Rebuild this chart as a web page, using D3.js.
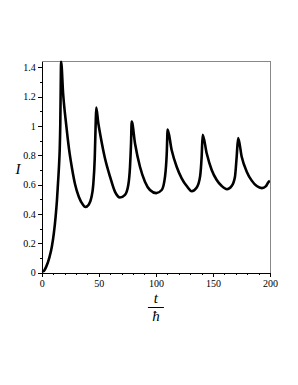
<!DOCTYPE html>
<head>
<meta charset="utf-8">
<script src="https://cdn.jsdelivr.net/npm/d3@7"></script>
<style>
body { margin: 0; background: #fff; }
.axis path, .axis line { stroke: #000; stroke-width: 1; shape-rendering: crispEdges; }
.axis text { font-family: "Liberation Serif", serif; font-size: 10px; fill: #000; }
.frame { fill: none; stroke: #888; stroke-width: 1; shape-rendering: crispEdges; }
.curve { fill: none; stroke: #000; stroke-width: 2.6px; stroke-linejoin: round; }
</style>
</head>
<body>
<script>
// values
var tValues = [0, 2, 3.9, 6.8, 8.8, 10.6, 12.1, 13.3, 14.2, 15.1, 15.7, 16.2, 16.6, 16.9,
  18.7, 21.5, 23.9, 26.5, 29.2, 32.5, 36.1, 38.1, 41.1, 43.4, 45.1, 46.4, 47.2, 47.7,
  49.5, 51.5, 55.2, 59.8, 64.2, 68.5, 72.9, 75.8, 77.3, 78.2, 78.8,
  81.7, 86.1, 90.4, 94.8, 100.3, 105.1, 108, 109.5, 110.3,
  113.8, 118.2, 122.6, 127, 131.4, 135.8, 138.7, 140.1, 141,
  144.5, 148.9, 153.3, 157.7, 162.3, 166.4, 169.3, 170.8, 172.1,
  175.2, 179.6, 184, 188.4, 192.9, 196.5, 198.5, 200];
var iValues = [0, 0.012, 0.04, 0.107, 0.176, 0.27, 0.38, 0.495, 0.61, 0.73, 0.84, 1.01, 1.28, 1.44,
  1.22, 1.0, 0.84, 0.71, 0.6, 0.515, 0.462, 0.447, 0.463, 0.51, 0.6, 0.78, 1.01, 1.125,
  1.02, 0.93, 0.785, 0.654, 0.55, 0.512, 0.53, 0.597, 0.72, 0.88, 1.03,
  0.88, 0.72, 0.62, 0.563, 0.542, 0.563, 0.654, 0.81, 0.975,
  0.836, 0.722, 0.643, 0.59, 0.555, 0.58, 0.654, 0.79, 0.94,
  0.814, 0.7, 0.631, 0.59, 0.568, 0.59, 0.654, 0.79, 0.918,
  0.79, 0.688, 0.627, 0.59, 0.576, 0.59, 0.615, 0.625];
var xTicks = [0, 50, 100, 150, 200];
var yTicks = [0, 0.2, 0.4, 0.6, 0.8, 1, 1.2, 1.4];
var xMinor = d3.range(0, 201, 10);
var yMinor = d3.range(0, 15).map(function(i) { return i / 10; });

// plot box in page pixels
var box = {left: 41.8, right: 270, top: 61.5, bottom: 272.5};

var x = d3.scaleLinear().domain([0, 200]).range([box.left, box.right]);
var y = d3.scaleLinear().domain([0, 1.44]).range([box.bottom, box.top]);

var svg = d3.select("body").append("svg")
    .attr("width", 298)
    .attr("height", 385);

// gray box on top and right
svg.append("path")
    .attr("class", "frame")
    .attr("d", "M" + box.left + "," + box.top + "H" + box.right + "V" + box.bottom);

svg.append("defs").append("clipPath")
    .attr("id", "clip")
  .append("rect")
    .attr("x", box.left).attr("y", box.top - 1)
    .attr("width", box.right - box.left).attr("height", box.bottom - box.top + 1);

// minor ticks
svg.append("g")
    .attr("class", "axis")
    .attr("transform", "translate(0," + box.bottom + ")")
    .call(d3.axisBottom(x).tickValues(xMinor).tickSize(2).tickSizeOuter(0).tickFormat(""));
svg.append("g")
    .attr("class", "axis")
    .attr("transform", "translate(" + box.left + ",0)")
    .call(d3.axisLeft(y).tickValues(yMinor).tickSize(2).tickSizeOuter(0).tickFormat(""));

// major ticks + labels
svg.append("g")
    .attr("class", "axis")
    .attr("transform", "translate(0," + box.bottom + ")")
    .call(d3.axisBottom(x).tickValues(xTicks).tickSize(4).tickSizeOuter(0).tickPadding(3));
svg.append("g")
    .attr("class", "axis")
    .attr("transform", "translate(" + box.left + ",0)")
    .call(d3.axisLeft(y).tickValues(yTicks).tickSize(4).tickSizeOuter(0).tickPadding(2)
        .tickFormat(function(d) { return String(+d.toFixed(1)); }));

var line = d3.line()
    .x(function(d, i) { return x(tValues[i]); })
    .y(function(d) { return y(d); })
    .curve(d3.curveMonotoneX);

svg.append("path")
    .datum(iValues)
    .attr("class", "curve")
    .attr("clip-path", "url(#clip)")
    .attr("d", line);

// axis titles
var cx = (box.left + box.right) / 2;
svg.append("text")
    .attr("x", cx).attr("y", 303)
    .attr("text-anchor", "middle")
    .style("font", "italic 15px 'Liberation Serif', serif")
    .text("t");
svg.append("line")
    .attr("x1", cx - 8).attr("x2", cx + 8)
    .attr("y1", 307.5).attr("y2", 307.5)
    .attr("stroke", "#000").attr("stroke-width", 1);
svg.append("text")
    .attr("x", cx).attr("y", 321)
    .attr("text-anchor", "middle")
    .style("font", "italic 15px 'Liberation Serif', serif")
    .text("ħ");

svg.append("text")
    .attr("x", 18).attr("y", 174)
    .attr("text-anchor", "middle")
    .style("font", "italic 15px 'Liberation Serif', serif")
    .text("I");
</script>
</body>
